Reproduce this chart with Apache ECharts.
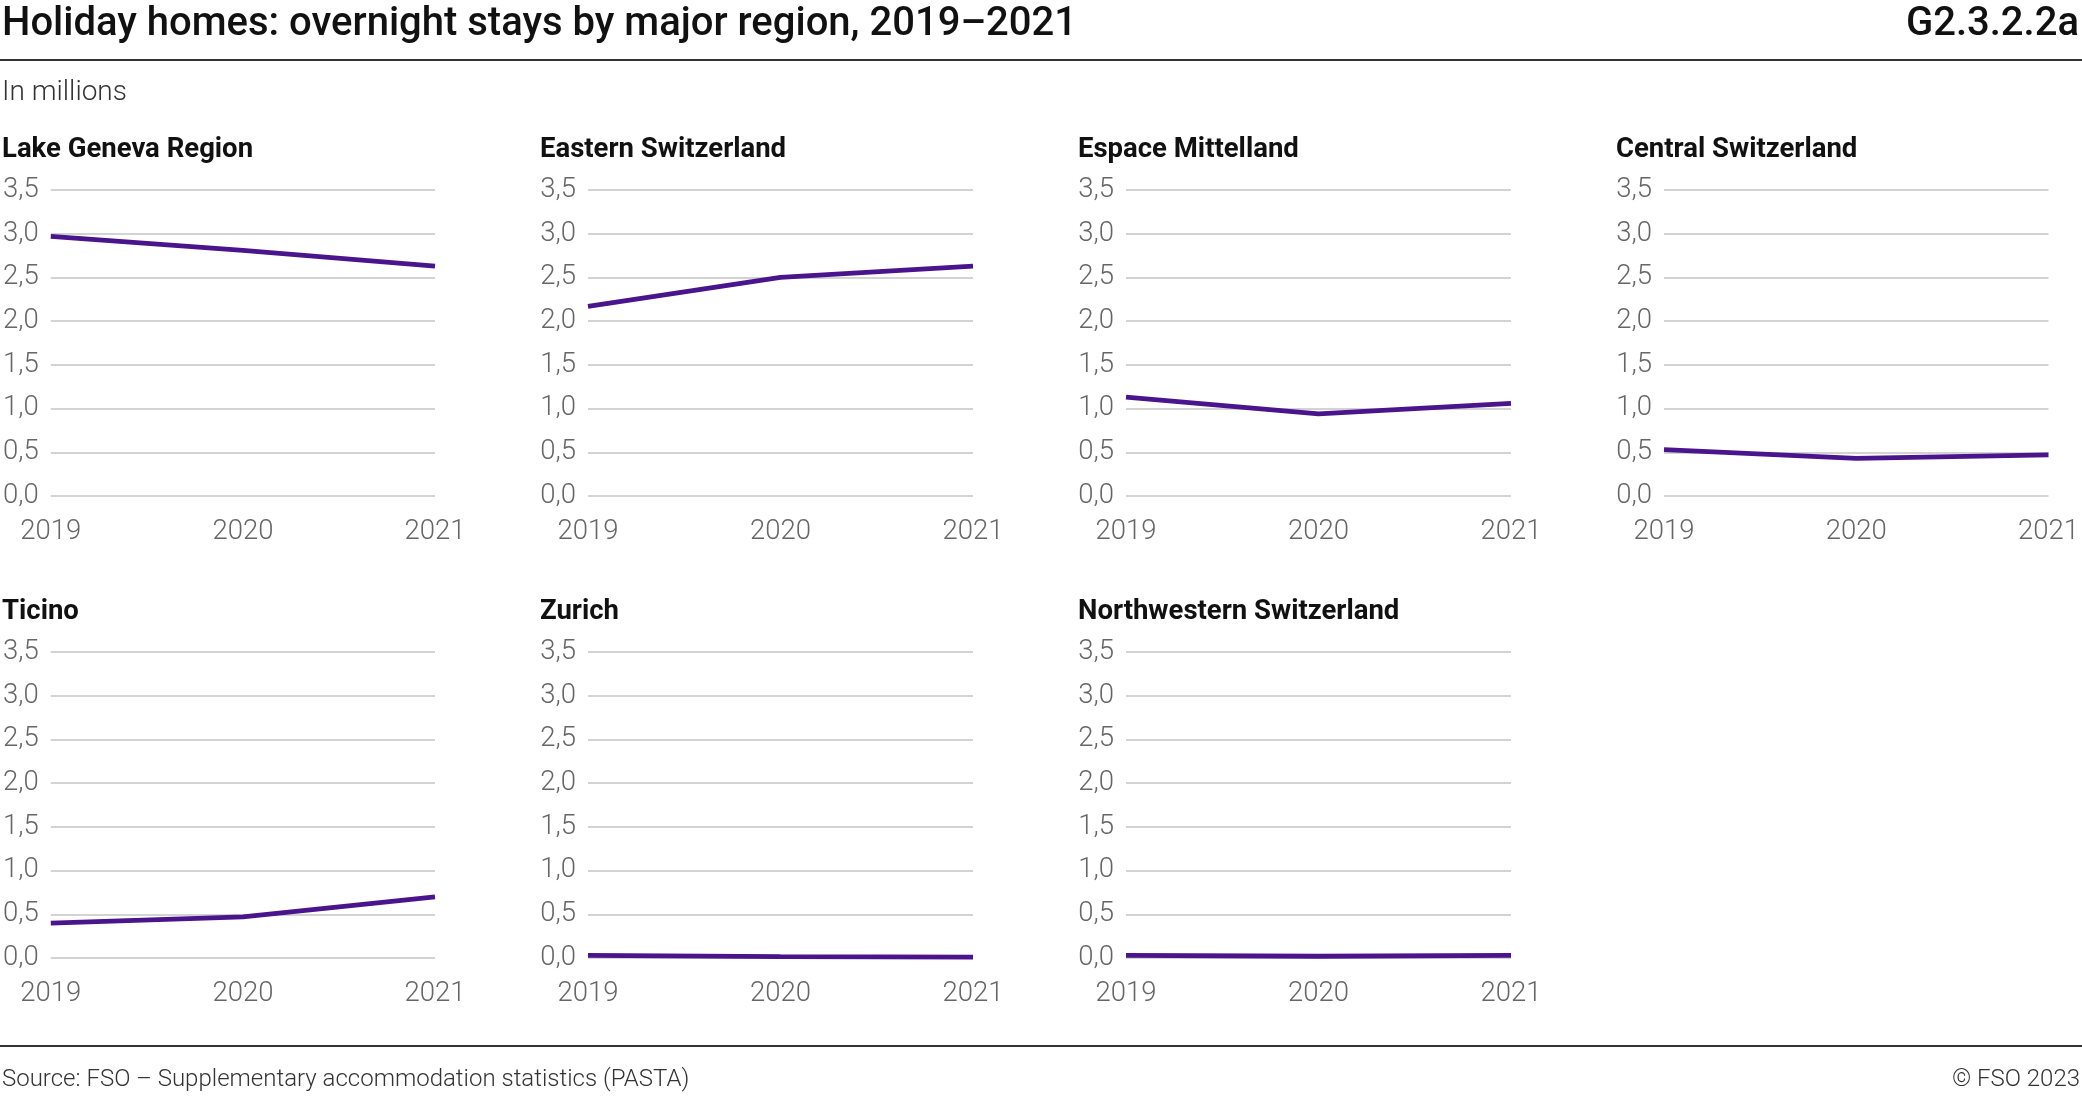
<!DOCTYPE html>
<html>
<head>
<meta charset="utf-8">
<script src="https://cdn.jsdelivr.net/npm/echarts@6/dist/echarts.min.js"></script>
<style>
html,body{margin:0;padding:0;background:#fff;}
#chart{width:2082px;height:1103px;}
</style>
</head>
<body>
<div id="chart"></div>
<script>
// ---- data ----
var years = ['2019', '2020', '2021'];
var regionNames = ['Lake Geneva Region', 'Eastern Switzerland', 'Espace Mittelland', 'Central Switzerland', 'Ticino', 'Zurich', 'Northwestern Switzerland'];
var lakeGeneva = [2.97, 2.81, 2.63];
var easternSwitzerland = [2.17, 2.50, 2.63];
var espaceMittelland = [1.13, 0.94, 1.06];
var centralSwitzerland = [0.53, 0.43, 0.47];
var ticino = [0.40, 0.47, 0.70];
var zurich = [0.03, 0.015, 0.01];
var northwesternSwitzerland = [0.03, 0.02, 0.03];
var yTicks = [0, 0.5, 1.0, 1.5, 2.0, 2.5, 3.0, 3.5];

var seriesData = [lakeGeneva, easternSwitzerland, espaceMittelland, centralSwitzerland, ticino, zurich, northwesternSwitzerland];

// ---- layout ----
var colLeft = [50, 588, 1126, 1664];
var rowTop = [190, 652];
var gridW = 385, gridH = 306;
var lineColor = '#4a148c';
var font = 'Roboto, "Noto Sans", sans-serif';

var grids = [], xAxes = [], yAxes = [], series = [], titles = [];
seriesData.forEach(function (d, i) {
  var r = Math.floor(i / 4), c = i % 4;
  grids.push({ left: colLeft[c], top: rowTop[r], width: gridW, height: gridH, containLabel: false });
  xAxes.push({
    type: 'category', gridIndex: i, data: years, boundaryGap: false,
    axisLine: { show: false }, axisTick: { show: false },
    axisLabel: { color: '#666', fontFamily: font, fontWeight: 300, fontSize: 27.5, margin: 22 }
  });
  yAxes.push({
    type: 'value', gridIndex: i, min: yTicks[0], max: yTicks[yTicks.length - 1], interval: 0.5,
    axisLine: { show: false }, axisTick: { show: false },
    axisLabel: {
      color: '#666', fontFamily: font, fontWeight: 300, fontSize: 27.5, margin: 12,
      padding: [5, 0, 0, 0],
      formatter: function (v) { return v.toFixed(1).replace('.', ','); }
    },
    splitLine: { lineStyle: { color: '#c4c4c4', width: 1.5 } }
  });
  series.push({
    type: 'line', xAxisIndex: i, yAxisIndex: i, data: d, symbol: 'none',
    lineStyle: { color: lineColor, width: 4.8 }, z: 5, silent: true
  });
  titles.push({
    text: regionNames[i], left: colLeft[c] - 48, top: rowTop[r] - 54, padding: 0,
    textStyle: { fontFamily: font, fontWeight: 'bold', fontSize: 27.5, color: '#111' }
  });
});

var chart = echarts.init(document.getElementById('chart'), null, { renderer: 'canvas' });
chart.setOption({
  animation: false,
  backgroundColor: '#fff',
  title: titles,
  grid: grids,
  xAxis: xAxes,
  yAxis: yAxes,
  series: series,
  graphic: [
    { type: 'text', left: 2, top: 5, style: { text: 'Holiday homes: overnight stays by major region, 2019\u20132021', font: '500 40px ' + font, fill: '#111' } },
    { type: 'text', right: 3, top: 5, style: { text: 'G2.3.2.2a', font: '500 40px ' + font, fill: '#111' } },
    { type: 'rect', left: 0, top: 59, shape: { width: 2082, height: 2 }, style: { fill: '#333' } },
    { type: 'text', left: 2, top: 79, style: { text: 'In millions', font: '300 28px ' + font, fill: '#333' } },
    { type: 'rect', left: 0, top: 1045, shape: { width: 2082, height: 2 }, style: { fill: '#333' } },
    { type: 'text', left: 2, top: 1068, style: { text: 'Source: FSO \u2013 Supplementary accommodation statistics (PASTA)', font: '300 24px ' + font, fill: '#333' } },
    { type: 'text', right: 2, top: 1068, style: { text: '\u00a9 FSO 2023', font: '300 24px ' + font, fill: '#333' } }
  ]
});
</script>
</body>
</html>
